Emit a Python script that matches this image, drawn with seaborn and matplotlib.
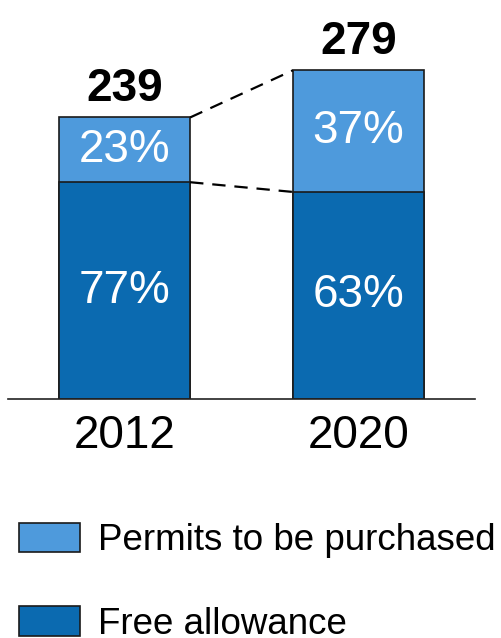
import numpy as np
import pandas as pd
import matplotlib
matplotlib.use('Agg')
import matplotlib.pyplot as plt
import seaborn as sns
from matplotlib.patches import Patch

years = ['2012', '2020']
totals = [239, 279]
free_pct = [77, 63]
permit_pct = [23, 37]

light_blue = '#4E9ADC'
dark_blue = '#0B6AB0'

sns.set_style('white')
plt.rcParams['font.family'] = ['Liberation Sans', 'DejaVu Sans']
plt.rcParams['text.color'] = 'black'
plt.rcParams['xtick.color'] = 'black'
plt.rcParams['xtick.labelcolor'] = 'black'

free_vals = [t * f / 100 for t, f in zip(totals, free_pct)]
df = pd.DataFrame({'year': years, 'total': totals, 'free': free_vals})

fig = plt.figure(figsize=(5.02, 6.38), dpi=100)
ax = fig.add_axes([8 / 502, 1 - 399 / 638, 467 / 502, 399 / 638])

bw = 0.56
sns.barplot(data=df, x='year', y='total', color=light_blue, width=bw,
            edgecolor='#1a1a1a', linewidth=1.2, saturation=1, ax=ax)
sns.barplot(data=df, x='year', y='free', color=dark_blue, width=bw,
            edgecolor='#1a1a1a', linewidth=1.2, saturation=1, ax=ax)

ax.set_xlim(-0.5, 1.5)
ax.set_ylim(0, 399 / 1.178)

# dashed connectors between bars
x0 = 0 + bw / 2
x1 = 1 - bw / 2
ax.plot([x0, x1], [totals[0], totals[1]], color='black', lw=1.6, ls=(0, (6, 4)))
ax.plot([x0, x1], [free_vals[0], free_vals[1]], color='black', lw=1.6, ls=(0, (6, 4)))

for i in range(len(years)):
    ax.annotate(str(totals[i]), (i, totals[i]), xytext=(0, 11.5),
                textcoords='offset points', ha='center', va='baseline',
                fontsize=33, fontweight='bold', color='black')
    ax.text(i, free_vals[i] / 2, f'{free_pct[i]}%', ha='center', va='center',
            fontsize=33, color='white')
    ax.text(i, (free_vals[i] + totals[i]) / 2, f'{permit_pct[i]}%', ha='center',
            va='center', fontsize=33, color='white')

sns.despine(ax=ax, left=True, top=True, right=True)
ax.spines['bottom'].set_color('#222222')
ax.spines['bottom'].set_linewidth(1.2)
ax.set_yticks([])
ax.set_xlabel('')
ax.set_ylabel('')
ax.tick_params(axis='x', length=0, pad=11, labelsize=33, labelcolor='black')

handles = [Patch(facecolor=light_blue, edgecolor='#1a1a1a', lw=1.2, label='Permits to be purchased'),
           Patch(facecolor=dark_blue, edgecolor='#1a1a1a', lw=1.2, label='Free allowance')]
leg = fig.legend(handles=handles, loc='upper left', bbox_to_anchor=(19 / 502, 1 - 523 / 638),
                 frameon=False, fontsize=26.5, handlelength=1.65, handleheight=0.85,
                 handletextpad=0.5, labelspacing=1.3, borderpad=0, borderaxespad=0)
for t in leg.get_texts():
    t.set_color('black')

fig.savefig('out.png', dpi=100)
